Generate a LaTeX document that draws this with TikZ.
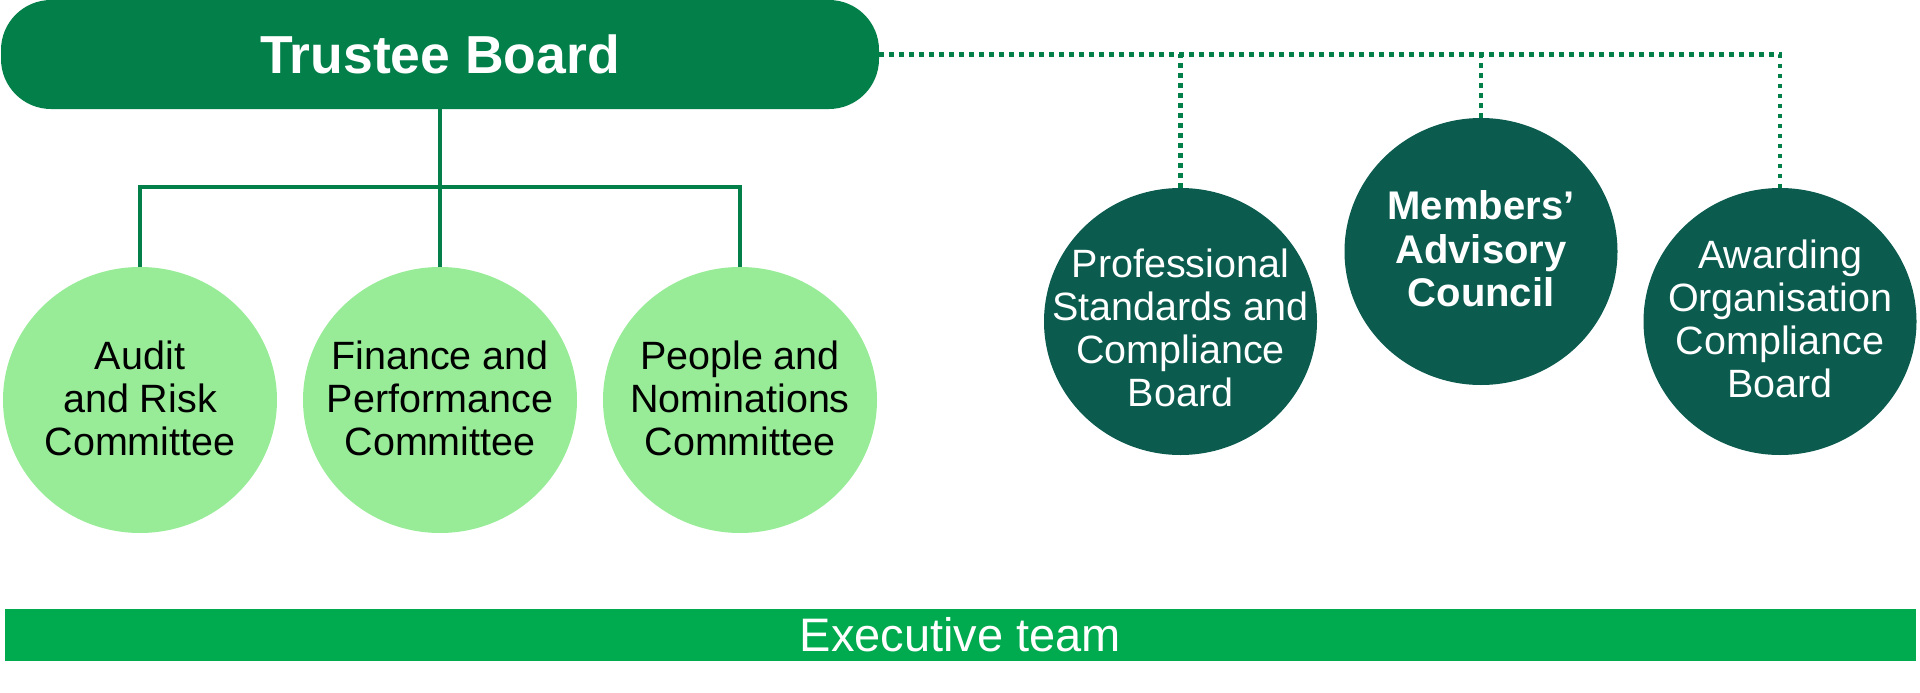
\documentclass[tikz,border=0pt]{standalone}
\usepackage{fontspec}
\setmainfont{Liberation Sans}
\usetikzlibrary{shapes.geometric}
\definecolor{tbgreen}{HTML}{037F4A}
\definecolor{darkteal}{HTML}{0B5C4F}
\definecolor{lightgrn}{HTML}{98EC98}
\definecolor{execgrn}{HTML}{00AA4E}
\begin{document}
\begin{tikzpicture}[x=1pt,y=-1pt,
  tbbox/.style={rectangle, rounded corners=50pt, fill=tbgreen, minimum width=878pt, minimum height=109pt, inner sep=0pt, text=white, font=\fontsize{53.5}{60}\selectfont\bfseries},
  lightcirc/.style={ellipse, fill=lightgrn, minimum width=274pt, minimum height=266pt, inner sep=0pt},
  lighttext/.style={align=center, text=black, inner sep=0pt, font=\fontsize{39.5}{43}\selectfont},
  darkcirc/.style={ellipse, fill=darkteal, minimum width=273pt, minimum height=267pt, inner sep=0pt},
  darktext/.style={align=center, text=white, inner sep=0pt, font=\fontsize{39.5}{43}\selectfont},
  solidline/.style={draw=tbgreen, line width=4.5pt},
  dotline/.style={draw=tbgreen, line width=4.5pt, dash pattern=on 4.5pt off 5.5pt},
  execbar/.style={rectangle, fill=execgrn, minimum width=1911pt, minimum height=52pt, inner sep=0pt, text=white, font=\fontsize{47}{52}\selectfont}]
\useasboundingbox (0,0) rectangle (1920,693);

% top board
\node[tbbox] (tb) at (440,54.5) {Trustee Board};

% committees
\node[lightcirc] (aud) at (140,400) {};
\node[lighttext] (audt) at (140,398) {Audit\\and Risk\\Committee};
\node[lightcirc] (fin) at (440,400) {};
\node[lighttext] (fint) at (440,398) {Finance and\\Performance\\Committee};
\node[lightcirc] (peo) at (740,400) {};
\node[lighttext] (peot) at (740,398) {People and\\Nominations\\Committee};

% advisory bodies
\node[darkcirc] (pscb) at (1180.5,321.5) {};
\node[darktext] (pscbt) at (1180.5,328) {Professional\\Standards and\\Compliance\\Board};
\node[darkcirc] (mac) at (1481,251.5) {};
\node[darktext, font=\fontsize{40}{43.5}\selectfont\bfseries] (mact) at (1481,249) {Members’\\Advisory\\Council};
\node[darkcirc] (aocb) at (1780,321.5) {};
\node[darktext] (aocbt) at (1780,319) {Awarding\\Organisation\\Compliance\\Board};

% executive bar
\node[execbar] (exec) at (960.5,635) {Executive team};

% solid connectors
\coordinate (mid) at (440,187);
\draw[solidline] (tb.south) -- (fin.north);
\draw[solidline] (aud.north) |- (mid) -| (peo.north);

% dotted connectors
\draw[dotline] (tb.east) -| (aocb.north);
\draw[dotline] (pscb.north) -- (pscb.north |- tb.east);
\draw[dotline] (mac.north) -- (mac.north |- tb.east);
\end{tikzpicture}
\end{document}
